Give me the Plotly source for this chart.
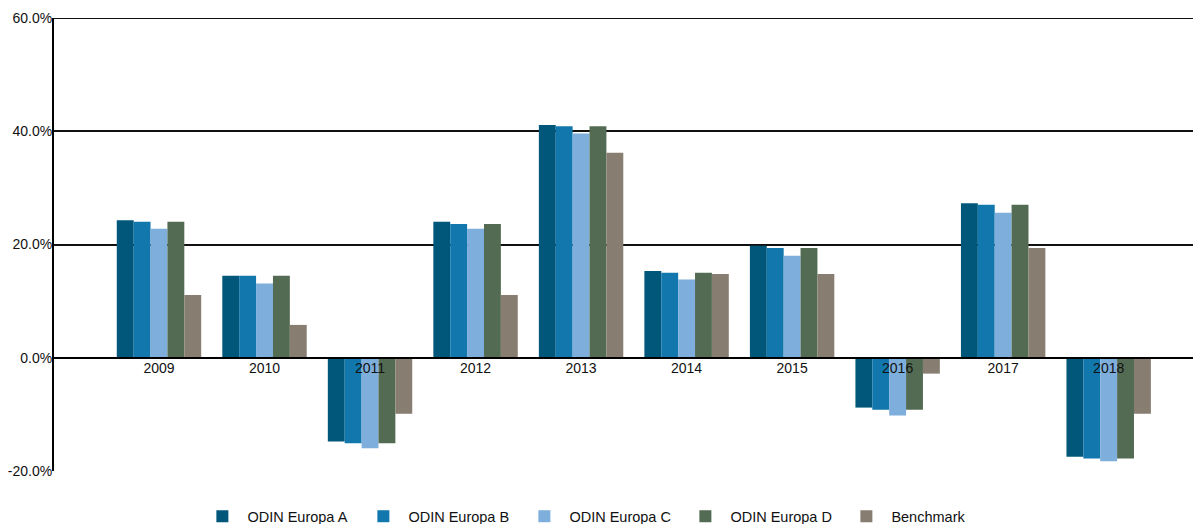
import plotly.graph_objects as go

years = ["2009", "2010", "2011", "2012", "2013", "2014", "2015", "2016", "2017", "2018"]
odin_a = [24.3, 14.5, -14.8, 24.0, 41.1, 15.3, 19.8, -8.8, 27.3, -17.5]
odin_b = [24.0, 14.5, -15.1, 23.6, 40.9, 15.0, 19.4, -9.2, 27.0, -17.8]
odin_c = [22.8, 13.1, -16.0, 22.8, 39.6, 13.8, 18.0, -10.2, 25.6, -18.3]
odin_d = [24.0, 14.5, -15.1, 23.6, 40.9, 15.0, 19.4, -9.2, 27.0, -17.8]
bench = [11.1, 5.8, -9.9, 11.1, 36.2, 14.8, 14.8, -2.8, 19.4, -9.9]

series = [
    ("ODIN Europa A", odin_a, "#00577A"),
    ("ODIN Europa B", odin_b, "#1177AD"),
    ("ODIN Europa C", odin_c, "#7DAEDC"),
    ("ODIN Europa D", odin_d, "#536B53"),
    ("Benchmark", bench, "#877D70"),
]

y_ticks = [-20, 0, 20, 40, 60]
y_tick_text = ["-20.0%", "0.0%", "20.0%", "40.0%", "60.0%"]

fig = go.Figure()
for name, vals, col in series:
    fig.add_trace(go.Bar(x=years, y=vals, name=name, marker=dict(color=col, line=dict(width=0))))

font = "Liberation Sans, Arial, sans-serif"
fig.update_layout(
    width=1193, height=516,
    margin=dict(l=46, r=0, t=10, b=53, autoexpand=False),
    paper_bgcolor="white", plot_bgcolor="white",
    barmode="group", bargap=0.2, bargroupgap=0,
    font=dict(family=font, size=14, color="#111111"),
    showlegend=True,
    legend=dict(orientation="h", x=0.125, xanchor="left", y=-0.1, yanchor="middle",
                entrywidth=106, entrywidthmode="pixels", itemwidth=40,
                font=dict(family=font, size=14.5, color="#111111"),
                traceorder="normal"),
    xaxis=dict(type="category", range=[-0.995, 9.875], anchor="free", position=0.25,
               showline=True, linecolor="#000000", linewidth=2, showgrid=False,
               ticks="", ticklabelstandoff=-3,
               tickfont=dict(family=font, size=14, color="#111111"),
               automargin=False, layer="above traces"),
    yaxis=dict(range=[-20, 60], tickvals=y_ticks, ticktext=y_tick_text,
               showline=True, linecolor="#000000", linewidth=2,
               showgrid=True, gridcolor="#111111", gridwidth=2,
               zeroline=True, zerolinecolor="#000000", zerolinewidth=2,
               automargin=False, ticks="", ticklabelstandoff=-3,
               tickfont=dict(family=font, size=14, color="#111111")),
)
fig.add_shape(type="line", xref="paper", yref="y", x0=0, x1=1,
              y0=y_ticks[-1], y1=y_ticks[-1], line=dict(color="#111111", width=2))

fig.write_html("out.html")
